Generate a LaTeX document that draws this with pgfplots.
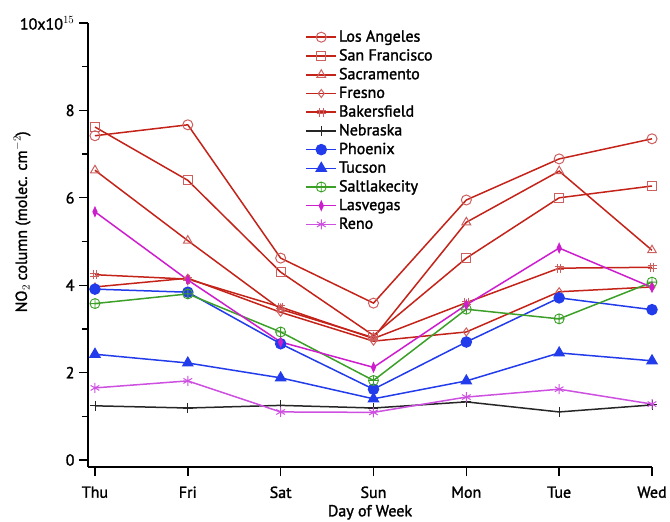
\documentclass[border=0pt]{standalone}
\usepackage{pgfplots}
\pgfplotsset{compat=1.18}
\usepackage{fontspec}
\setmainfont{PT Sans}[RawFeature={embolden=1.6}]
\definecolor{lred}{RGB}{195,35,25}
\definecolor{mred}{RGB}{205,95,95}
\definecolor{lblue}{RGB}{35,60,235}
\definecolor{lgreen}{RGB}{60,160,40}
\definecolor{lmag}{RGB}{205,30,205}
\definecolor{lreno}{RGB}{205,80,225}
\pgfdeclareplotmark{hash}{%
  \pgfpathmoveto{\pgfqpoint{-0.4\pgfplotmarksize}{\pgfplotmarksize}}%
  \pgfpathlineto{\pgfqpoint{-0.4\pgfplotmarksize}{-\pgfplotmarksize}}%
  \pgfpathmoveto{\pgfqpoint{0.4\pgfplotmarksize}{\pgfplotmarksize}}%
  \pgfpathlineto{\pgfqpoint{0.4\pgfplotmarksize}{-\pgfplotmarksize}}%
  \pgfpathmoveto{\pgfqpoint{-\pgfplotmarksize}{0.35\pgfplotmarksize}}%
  \pgfpathlineto{\pgfqpoint{\pgfplotmarksize}{0.35\pgfplotmarksize}}%
  \pgfpathmoveto{\pgfqpoint{-\pgfplotmarksize}{-0.35\pgfplotmarksize}}%
  \pgfpathlineto{\pgfqpoint{\pgfplotmarksize}{-0.35\pgfplotmarksize}}%
  \pgfusepathqstroke}
\begin{document}
\fontsize{16pt}{18pt}\selectfont
\begin{tikzpicture}
\begin{axis}[
  scale only axis,
  width=564pt, height=444pt,
  xmin=-0.075, xmax=6, ymin=-0.16, ymax=10,
  axis x line=bottom, axis y line=left,
  axis line style={-, line width=1.6pt},
  tick align=outside,
  major tick length=9pt, minor tick length=6pt,
  tick style={line width=1.4pt, black},
  xtick={0,...,6},
  xticklabels={Thu,Fri,Sat,Sun,Mon,Tue,Wed},
  ytick={0,2,4,6,8,10},
  yticklabels={0,2,4,6,8,{10x10$^{15}$}},
  minor ytick={1,3,5,7,9},
  /pgf/number format/assume math mode=true,
  tick label style={font=\fontsize{16pt}{18pt}\selectfont},
  xticklabel style={yshift=-5pt},
  yticklabel style={xshift=1pt},
  xlabel={Day of Week},
  ylabel={NO$_2$ column (molec. cm$^{-2}$)},
  label style={font=\fontsize{16pt}{18pt}\selectfont},
  xlabel style={yshift=4pt},
  ylabel style={at={(axis description cs:-0.117,0.552)}, anchor=center},
  every axis plot/.append style={line width=1.5pt},
  legend style={draw=none, fill=none, at={(0.38,0.993)}, anchor=north west,
    font=\fontsize{16pt}{18pt}\selectfont, row sep=1pt,
    legend cell align=left},
  legend image code/.code={%
    \draw[mark repeat=2,mark phase=2] plot coordinates {(0pt,0pt) (15pt,0pt) (30pt,0pt)};},
]
\addplot[lred, mark=o, mark size=5pt, mark options={draw=mred, line width=1pt}]
  coordinates {(0,7.42)(1,7.67)(2,4.62)(3,3.59)(4,5.95)(5,6.89)(6,7.35)};
\addlegendentry{Los Angeles}
\addplot[lred, mark=square, mark size=4.5pt, mark options={draw=mred, line width=1pt}]
  coordinates {(0,7.62)(1,6.40)(2,4.30)(3,2.85)(4,4.62)(5,6.00)(6,6.27)};
\addlegendentry{San Francisco}
\addplot[lred, mark=triangle, mark size=5pt, mark options={draw=mred, line width=1pt}]
  coordinates {(0,6.63)(1,5.02)(2,3.45)(3,2.80)(4,5.44)(5,6.61)(6,4.80)};
\addlegendentry{Sacramento}
\addplot[lred, mark=diamond, mark size=4pt, mark options={draw=mred, line width=1pt}]
  coordinates {(0,3.96)(1,4.16)(2,3.38)(3,2.72)(4,2.93)(5,3.85)(6,3.96)};
\addlegendentry{Fresno}
\addplot[lred, mark=hash, mark size=4.5pt, mark options={draw=mred, line width=1pt}]
  coordinates {(0,4.24)(1,4.14)(2,3.50)(3,2.78)(4,3.60)(5,4.39)(6,4.41)};
\addlegendentry{Bakersfield}
\addplot[black!85, mark=+, mark size=5pt, mark options={line width=0.9pt}]
  coordinates {(0,1.24)(1,1.19)(2,1.25)(3,1.19)(4,1.33)(5,1.10)(6,1.26)};
\addlegendentry{Nebraska}
\addplot[lblue, mark=*, mark size=5pt]
  coordinates {(0,3.91)(1,3.84)(2,2.66)(3,1.62)(4,2.70)(5,3.71)(6,3.44)};
\addlegendentry{Phoenix}
\addplot[lblue, mark=triangle*, mark size=5.5pt]
  coordinates {(0,2.42)(1,2.22)(2,1.88)(3,1.40)(4,1.81)(5,2.45)(6,2.27)};
\addlegendentry{Tucson}
\addplot[lgreen, mark=oplus, mark size=5pt, mark options={line width=0.9pt}]
  coordinates {(0,3.58)(1,3.80)(2,2.93)(3,1.82)(4,3.45)(5,3.23)(6,4.07)};
\addlegendentry{Saltlakecity}
\addplot[lmag, mark=diamond*, mark size=4pt, mark options={xscale=0.6}]
  coordinates {(0,5.68)(1,4.12)(2,2.70)(3,2.12)(4,3.55)(5,4.85)(6,3.95)};
\addlegendentry{Lasvegas}
\addplot[lreno, mark=asterisk, mark size=5pt, mark options={line width=1pt}]
  coordinates {(0,1.65)(1,1.81)(2,1.10)(3,1.09)(4,1.44)(5,1.62)(6,1.28)};
\addlegendentry{Reno}
\end{axis}
\pgfresetboundingbox
\path ([shift={(-88pt,-54pt)}]current axis.south west) rectangle ([shift={(18pt,23pt)}]current axis.north east);
\end{tikzpicture}
\end{document}
